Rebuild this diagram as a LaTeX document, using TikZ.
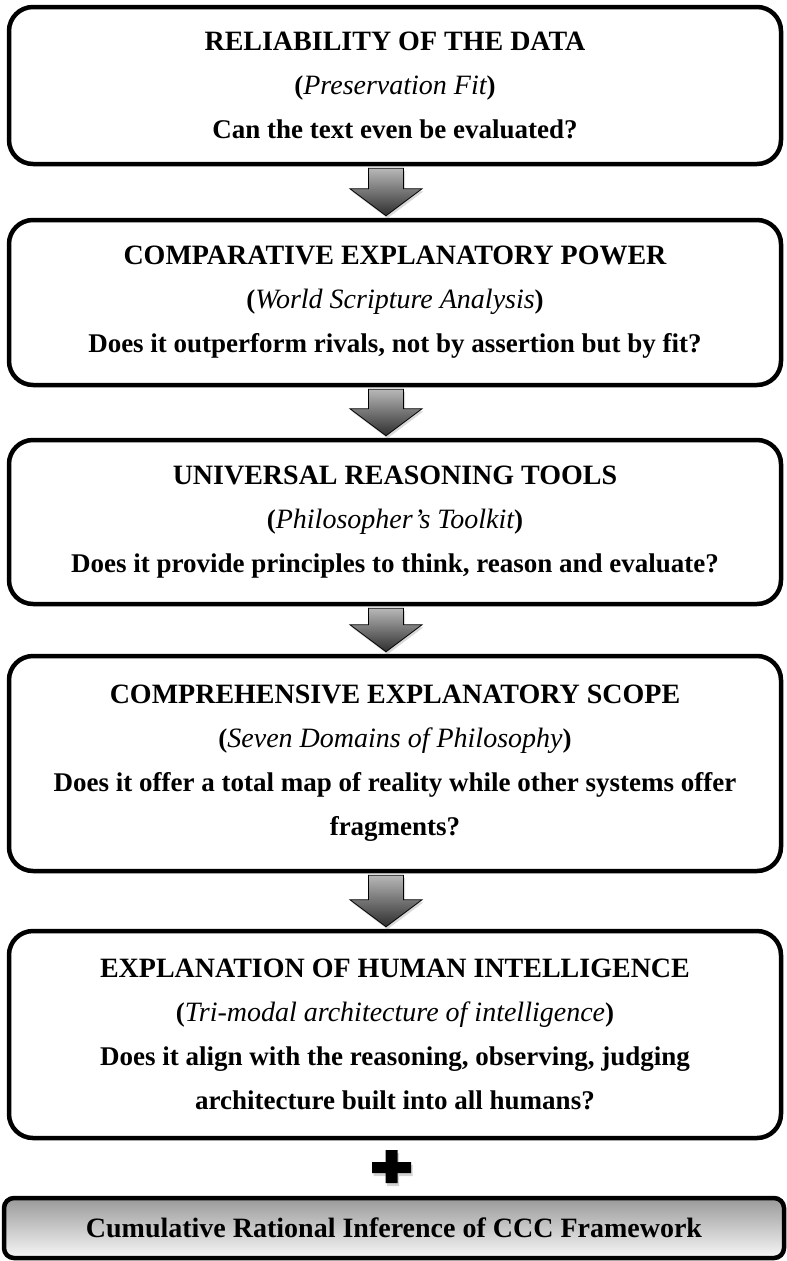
\documentclass[tikz,border=0pt]{standalone}
\usepackage{fontspec}
\setmainfont{Liberation Serif}
\usetikzlibrary{calc,shadows}

\newcommand\bodyfont{\fontsize{27}{44}\selectfont\bfseries}
\newcommand\headline[1]{{\fontsize{28}{44}\selectfont #1}}
\newcommand\subline[1]{({\fontsize{28}{44}\selectfont\mdseries\itshape #1})}

% block arrow pointing down from the bottom of one stage to the top of the next
\newcommand\flowarrow[2]{%
  \path[flowarrow] let \p1=(#1.south), \p2=(#2.north) in
    (\x1-26.5pt,\y1-2pt) -- (\x1+8.5pt,\y1-2pt) -- (\x1+8.5pt,\y2+29pt)
    -- (\x1+27pt,\y2+29pt) -- (\x1-9pt,\y2+2pt) -- (\x1-45pt,\y2+29pt)
    -- (\x1-26.5pt,\y2+29pt) -- cycle;}

\begin{document}
\begin{tikzpicture}[x=1pt,y=1pt,
  stage/.style={draw=black, line width=4.5pt, rounded corners=24pt, fill=white,
    minimum width=772pt, inner sep=0pt, align=center, font=\bodyfont},
  flowarrow/.style={draw=black, line width=0.8pt, top color=black!28, bottom color=black!82,
    drop shadow={opacity=0.3, shadow xshift=1.5pt, shadow yshift=-2.5pt}},
  summary/.style={draw=black, line width=4.5pt, rounded corners=10pt,
    top color=black!40, bottom color=black!3, minimum width=780pt, minimum height=60pt,
    inner sep=0pt, font=\bodyfont\fontsize{28}{34}\selectfont},
  plusmark/.style={fill=black, drop shadow={opacity=0.35, shadow xshift=1.5pt, shadow yshift=-3pt}}
]
\useasboundingbox (0,0) rectangle (787,-1261);

\node[stage, minimum height=157pt] (s1) at (395,-85.5)
  {\headline{RELIABILITY OF THE DATA}\\ \subline{Preservation Fit}\\ Can the text even be evaluated?};
\node[stage, minimum height=165pt] (s2) at (395,-302.5)
  {\headline{COMPARATIVE EXPLANATORY POWER}\\ \subline{World Scripture Analysis}\\ Does it outperform rivals, not by assertion but by fit?};
\node[stage, minimum height=164pt] (s3) at (395,-522)
  {\headline{UNIVERSAL REASONING TOOLS}\\ \subline{Philosopher’s Toolkit}\\ Does it provide principles to think, reason and evaluate?};
\node[stage, minimum height=215pt] (s4) at (395,-763.5)
  {\headline{COMPREHENSIVE EXPLANATORY SCOPE}\\ \subline{Seven Domains of Philosophy}\\ Does it offer a total map of reality while other systems offer\\ fragments?};
\node[stage, minimum height=207pt] (s5) at (395,-1034.5)
  {\headline{EXPLANATION OF HUMAN INTELLIGENCE}\\ \subline{Tri-modal architecture of intelligence}\\ Does it align with the reasoning, observing, judging\\ architecture built into all humans?};
\node[summary] (s6) at (394,-1228) {Cumulative Rational Inference of CCC Framework};

\flowarrow{s1}{s2}
\flowarrow{s2}{s3}
\flowarrow{s3}{s4}
\flowarrow{s4}{s5}

% plus sign between the last stage and the summary bar
\coordinate (plus) at (391.5,-1167);
\path[plusmark] ($(plus)+(-6,17)$) -- ++(12,0) -- ++(0,-12) -- ++(13.5,0) -- ++(0,-11)
  -- ++(-13.5,0) -- ++(0,-10) -- ++(-12,0) -- ++(0,10) -- ++(-13.5,0) -- ++(0,11)
  -- ++(13.5,0) -- cycle;
\end{tikzpicture}
\end{document}
